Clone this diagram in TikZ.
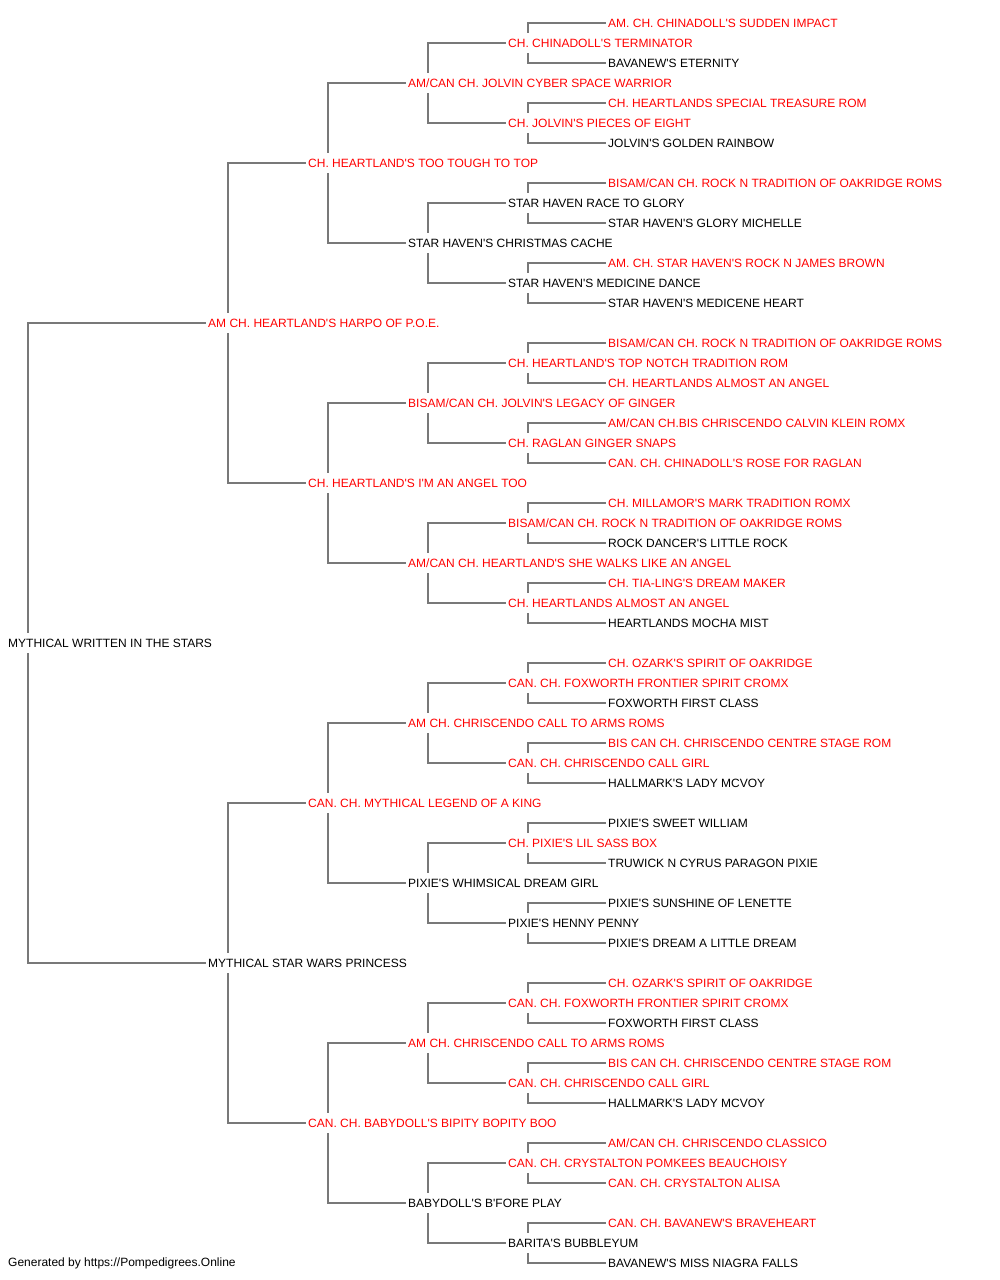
\documentclass[tikz,border=0pt]{standalone}
\usepackage{fontspec}
\newfontfamily\pf{Liberation Sans}[Ligatures=TeXOff]
\usetikzlibrary{backgrounds}
\definecolor{linegray}{HTML}{787878}
\definecolor{pedred}{HTML}{FF0000}
\tikzset{
  pn/.style={anchor=west, inner xsep=2pt, inner ysep=0pt, minimum height=20pt,
    fill=white, font=\pf\fontsize{12}{14}\selectfont, text=black},
  rn/.style={pn, text=pedred},
  bn/.style={pn},
  conn/.style={draw=linegray, line width=2pt}
}
\newcommand\pedn[5]{\pgfmathsetmacro\pedx{#2==0 ? 6 : 106+100*#2}\node[#4] (r#3) at (\pedx,{-23-20*#3}) {#5};}
\newcommand\pedconn[3]{\draw[conn] (r#2.west) -| ([xshift=22pt]r#1.west) |- (r#3.west);}
\begin{document}
\begin{tikzpicture}[x=1pt,y=1pt]
\useasboundingbox (0,0) rectangle (1000,-1280);
\pedn{}{5}{0}{rn}{AM. CH. CHINADOLL'S SUDDEN IMPACT}
\pedn{}{4}{1}{rn}{CH. CHINADOLL'S TERMINATOR}
\pedn{}{5}{2}{bn}{BAVANEW'S ETERNITY}
\pedn{}{3}{3}{rn}{AM/CAN CH. JOLVIN CYBER SPACE WARRIOR}
\pedn{}{5}{4}{rn}{CH. HEARTLANDS SPECIAL TREASURE ROM}
\pedn{}{4}{5}{rn}{CH. JOLVIN'S PIECES OF EIGHT}
\pedn{}{5}{6}{bn}{JOLVIN'S GOLDEN RAINBOW}
\pedn{}{2}{7}{rn}{CH. HEARTLAND'S TOO TOUGH TO TOP}
\pedn{}{5}{8}{rn}{BISAM/CAN CH. ROCK N TRADITION OF OAKRIDGE ROMS}
\pedn{}{4}{9}{bn}{STAR HAVEN RACE TO GLORY}
\pedn{}{5}{10}{bn}{STAR HAVEN'S GLORY MICHELLE}
\pedn{}{3}{11}{bn}{STAR HAVEN'S CHRISTMAS CACHE}
\pedn{}{5}{12}{rn}{AM. CH. STAR HAVEN'S ROCK N JAMES BROWN}
\pedn{}{4}{13}{bn}{STAR HAVEN'S MEDICINE DANCE}
\pedn{}{5}{14}{bn}{STAR HAVEN'S MEDICENE HEART}
\pedn{}{1}{15}{rn}{AM CH. HEARTLAND'S HARPO OF P.O.E.}
\pedn{}{5}{16}{rn}{BISAM/CAN CH. ROCK N TRADITION OF OAKRIDGE ROMS}
\pedn{}{4}{17}{rn}{CH. HEARTLAND'S TOP NOTCH TRADITION ROM}
\pedn{}{5}{18}{rn}{CH. HEARTLANDS ALMOST AN ANGEL}
\pedn{}{3}{19}{rn}{BISAM/CAN CH. JOLVIN'S LEGACY OF GINGER}
\pedn{}{5}{20}{rn}{AM/CAN CH.BIS CHRISCENDO CALVIN KLEIN ROMX}
\pedn{}{4}{21}{rn}{CH. RAGLAN GINGER SNAPS}
\pedn{}{5}{22}{rn}{CAN. CH. CHINADOLL'S ROSE FOR RAGLAN}
\pedn{}{2}{23}{rn}{CH. HEARTLAND'S I'M AN ANGEL TOO}
\pedn{}{5}{24}{rn}{CH. MILLAMOR'S MARK TRADITION ROMX}
\pedn{}{4}{25}{rn}{BISAM/CAN CH. ROCK N TRADITION OF OAKRIDGE ROMS}
\pedn{}{5}{26}{bn}{ROCK DANCER'S LITTLE ROCK}
\pedn{}{3}{27}{rn}{AM/CAN CH. HEARTLAND'S SHE WALKS LIKE AN ANGEL}
\pedn{}{5}{28}{rn}{CH. TIA-LING'S DREAM MAKER}
\pedn{}{4}{29}{rn}{CH. HEARTLANDS ALMOST AN ANGEL}
\pedn{}{5}{30}{bn}{HEARTLANDS MOCHA MIST}
\pedn{}{0}{31}{bn}{MYTHICAL WRITTEN IN THE STARS}
\pedn{}{5}{32}{rn}{CH. OZARK'S SPIRIT OF OAKRIDGE}
\pedn{}{4}{33}{rn}{CAN. CH. FOXWORTH FRONTIER SPIRIT CROMX}
\pedn{}{5}{34}{bn}{FOXWORTH FIRST CLASS}
\pedn{}{3}{35}{rn}{AM CH. CHRISCENDO CALL TO ARMS ROMS}
\pedn{}{5}{36}{rn}{BIS CAN CH. CHRISCENDO CENTRE STAGE ROM}
\pedn{}{4}{37}{rn}{CAN. CH. CHRISCENDO CALL GIRL}
\pedn{}{5}{38}{bn}{HALLMARK'S LADY MCVOY}
\pedn{}{2}{39}{rn}{CAN. CH. MYTHICAL LEGEND OF A KING}
\pedn{}{5}{40}{bn}{PIXIE'S SWEET WILLIAM}
\pedn{}{4}{41}{rn}{CH. PIXIE'S LIL SASS BOX}
\pedn{}{5}{42}{bn}{TRUWICK N CYRUS PARAGON PIXIE}
\pedn{}{3}{43}{bn}{PIXIE'S WHIMSICAL DREAM GIRL}
\pedn{}{5}{44}{bn}{PIXIE'S SUNSHINE OF LENETTE}
\pedn{}{4}{45}{bn}{PIXIE'S HENNY PENNY}
\pedn{}{5}{46}{bn}{PIXIE'S DREAM A LITTLE DREAM}
\pedn{}{1}{47}{bn}{MYTHICAL STAR WARS PRINCESS}
\pedn{}{5}{48}{rn}{CH. OZARK'S SPIRIT OF OAKRIDGE}
\pedn{}{4}{49}{rn}{CAN. CH. FOXWORTH FRONTIER SPIRIT CROMX}
\pedn{}{5}{50}{bn}{FOXWORTH FIRST CLASS}
\pedn{}{3}{51}{rn}{AM CH. CHRISCENDO CALL TO ARMS ROMS}
\pedn{}{5}{52}{rn}{BIS CAN CH. CHRISCENDO CENTRE STAGE ROM}
\pedn{}{4}{53}{rn}{CAN. CH. CHRISCENDO CALL GIRL}
\pedn{}{5}{54}{bn}{HALLMARK'S LADY MCVOY}
\pedn{}{2}{55}{rn}{CAN. CH. BABYDOLL'S BIPITY BOPITY BOO}
\pedn{}{5}{56}{rn}{AM/CAN CH. CHRISCENDO CLASSICO}
\pedn{}{4}{57}{rn}{CAN. CH. CRYSTALTON POMKEES BEAUCHOISY}
\pedn{}{5}{58}{rn}{CAN. CH. CRYSTALTON ALISA}
\pedn{}{3}{59}{bn}{BABYDOLL'S B'FORE PLAY}
\pedn{}{5}{60}{rn}{CAN. CH. BAVANEW'S BRAVEHEART}
\pedn{}{4}{61}{bn}{BARITA'S BUBBLEYUM}
\pedn{}{5}{62}{bn}{BAVANEW'S MISS NIAGRA FALLS}
\node[pn, fill=none] (footer) at (6,-1263) {Generated by https://Pompedigrees.Online};
\begin{pgfonlayer}{background}
\pedconn{31}{15}{47}
\pedconn{15}{7}{23}
\pedconn{47}{39}{55}
\foreach \k in {7,23,39,55}{\pgfmathtruncatemacro\sa{\k-4}\pgfmathtruncatemacro\da{\k+4}\pedconn{\k}{\sa}{\da}}
\foreach \k in {3,11,...,59}{\pgfmathtruncatemacro\sa{\k-2}\pgfmathtruncatemacro\da{\k+2}\pedconn{\k}{\sa}{\da}}
\foreach \k in {1,5,...,61}{\pgfmathtruncatemacro\sa{\k-1}\pgfmathtruncatemacro\da{\k+1}\pedconn{\k}{\sa}{\da}}
\end{pgfonlayer}
\end{tikzpicture}
\end{document}
